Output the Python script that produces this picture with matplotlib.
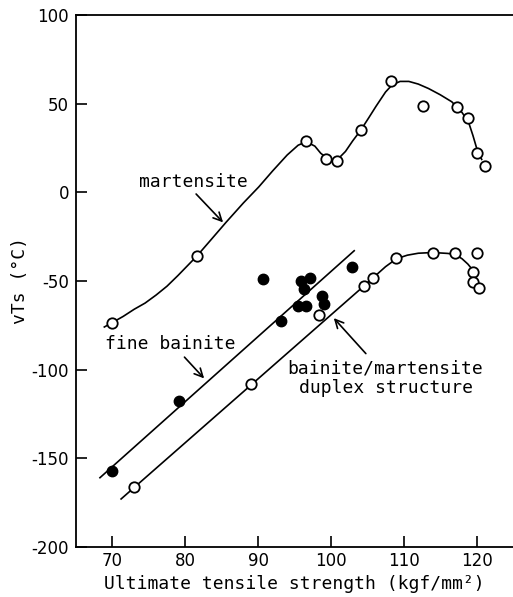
import numpy as np
import matplotlib
matplotlib.use("Agg")
import matplotlib.pyplot as plt

plt.rcParams["axes.unicode_minus"] = False

# points (tensile strength kgf/mm2, vTs degC)
mart_x = [70, 81.6, 96.6, 99.3, 100.8, 104.1, 108.3, 112.7, 117.3, 118.8, 120.1, 121.2]
mart_y = [-73.5, -36, 29, 19, 17.5, 35, 62.5, 48.5, 48, 41.7, 22, 15]

# hand drawn martensite curve, traced
mart_cx = [68.9, 70, 71.5, 73, 74.5, 76, 77.5, 79, 80.3, 81.6, 83.5, 85.6, 88, 90.1,
           92, 94, 95.5, 96.6, 97.8, 98.6, 99.7, 100.8, 102, 103, 104.1, 105.2,
           106.2, 107.5, 108.4, 109.5, 110.7, 112, 113.4, 115, 116.6, 118, 118.9,
           119.5, 120, 120.7]
mart_cy = [-76, -73.5, -70, -66, -62.5, -58, -53, -47, -41.5, -36, -27, -17, -6,
           3, 12, 21, 26.5, 28.5, 26, 22, 18.5, 18, 23, 29, 35, 42, 48.5, 56.5,
           60.5, 62.5, 62.5, 61, 58.5, 55, 51, 45, 39.5, 32, 25, 18.5]

dup_x = [73, 89, 98.4, 104.5, 105.8, 109, 114, 117, 120.1, 119.5, 119.5, 120.4]
dup_y = [-166, -108, -69, -53, -48.6, -37, -34.4, -34.5, -34.4, -45, -50.6, -54]

dup_cx = [71.2, 104.5, 106, 107.5, 109, 110.5, 112, 114, 116, 117, 118, 118.8, 119.6]
dup_cy = [-173, -53, -47.5, -42, -37.5, -35.5, -34.4, -34, -34.5, -35, -37.5, -40.5, -44.5]

fb_x = [70, 79.2, 90.7, 95.9, 97.1, 96.3, 98.8, 99.0, 95.5, 96.6, 93.2, 102.9]
fb_y = [-157, -118, -49, -50, -48.5, -54.6, -58.6, -63, -64, -64, -72.7, -41.9]

fb_lx = [68.3, 103.2]
fb_ly = [-161, -33]

mono = "DejaVu Sans Mono"

fig = plt.figure(figsize=(5.13, 5.97), dpi=100)
ax = fig.add_axes([0.148, 0.084, 0.852, 0.891])

lw = 1.2
ax.plot(mart_cx, mart_cy, color="black", lw=lw)
ax.plot(dup_cx, dup_cy, color="black", lw=lw)
ax.plot(fb_lx, fb_ly, color="black", lw=lw)

ax.plot(mart_x, mart_y, "o", ms=7.5, mfc="white", mec="black", mew=1.3, ls="none")
ax.plot(dup_x, dup_y, "o", ms=7.5, mfc="white", mec="black", mew=1.3, ls="none")
ax.plot(fb_x, fb_y, "o", ms=7.5, mfc="black", mec="black", ls="none")

# labels and their arrows
arrow = dict(arrowstyle="->", color="black", lw=1.2, mutation_scale=15,
             shrinkA=0, shrinkB=0)
ax.text(81.1, 6, "martensite", ha="center", va="center", fontsize=13, family=mono)
ax.annotate("", xy=(85.2, -17), xytext=(81.5, -1), arrowprops=arrow)

ax.text(77.9, -85.6, "fine bainite", ha="center", va="center", fontsize=13, family=mono)
ax.annotate("", xy=(82.6, -105), xytext=(79.9, -93), arrowprops=arrow)

ax.text(107.5, -105, "bainite/martensite\nduplex structure", ha="center", va="center",
        fontsize=13, family=mono, linespacing=1.1)
ax.annotate("", xy=(100.4, -71), xytext=(104.8, -91), arrowprops=arrow)

ax.set_xlim(65, 125)
ax.set_ylim(-200, 100)
ax.set_xticks([70, 80, 90, 100, 110, 120])
ax.set_yticks([-200, -150, -100, -50, 0, 50, 100])
ax.tick_params(direction="in", length=8, width=1.2, labelsize=12)
ax.tick_params(axis="y", pad=5)
ax.tick_params(axis="x", pad=4)
ax.spines["right"].set_visible(False)
for s in ["left", "bottom", "top"]:
    ax.spines[s].set_linewidth(1.3)

ax.set_xlabel("Ultimate tensile strength (kgf/mm²)", family=mono, fontsize=13, labelpad=3)
ax.set_ylabel("vTs (°C)", family=mono, fontsize=13, labelpad=2)

fig.savefig("out.png", dpi=100)
